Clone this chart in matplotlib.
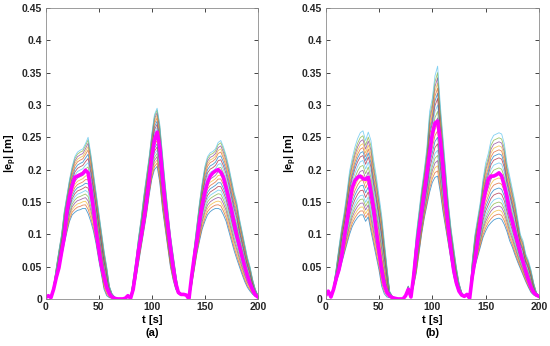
import numpy as np
import matplotlib.pyplot as plt

plt.rcParams['font.family'] = ['Liberation Sans', 'DejaVu Sans']
plt.rcParams['font.weight'] = 'bold'
plt.rcParams['mathtext.fontset'] = 'custom'
plt.rcParams['mathtext.rm'] = 'Liberation Sans:bold'
plt.rcParams['mathtext.it'] = 'Liberation Sans:bold'

# sample times [s]
t = np.arange(0, 200.1, 2.5)

# panel (a): highest run, lowest run and mean (magenta)
upper_a = [0.002, 0.003, 0.003, 0.020, 0.048, 0.075, 0.100, 0.135, 0.160, 0.185,
           0.205, 0.220, 0.227, 0.230, 0.232, 0.240, 0.250, 0.225, 0.195, 0.165,
           0.135, 0.105, 0.075, 0.050, 0.020, 0.008, 0.003, 0.001, 0.000, 0.000,
           0.002, 0.005, 0.002, 0.030, 0.060, 0.095, 0.125, 0.160, 0.190, 0.220,
           0.255, 0.285, 0.295, 0.270, 0.225, 0.180, 0.140, 0.100, 0.070, 0.040,
           0.012, 0.008, 0.007, 0.006, 0.001, 0.040, 0.080, 0.115, 0.150, 0.180,
           0.205, 0.220, 0.226, 0.228, 0.232, 0.242, 0.245, 0.235, 0.222, 0.205,
           0.185, 0.165, 0.150, 0.125, 0.105, 0.085, 0.065, 0.050, 0.030, 0.015,
           0.005]
lower_a = [0.002, 0.003, 0.002, 0.012, 0.028, 0.045, 0.065, 0.085, 0.103, 0.120,
           0.130, 0.134, 0.137, 0.138, 0.140, 0.140, 0.132, 0.120, 0.105, 0.085,
           0.060, 0.038, 0.015, 0.005, 0.002, 0.001, 0.001, 0.000, 0.000, 0.000,
           0.002, 0.005, 0.001, 0.010, 0.030, 0.055, 0.080, 0.105, 0.130, 0.160,
           0.185, 0.200, 0.205, 0.180, 0.140, 0.110, 0.080, 0.050, 0.030, 0.015,
           0.008, 0.007, 0.006, 0.006, 0.000, 0.020, 0.045, 0.070, 0.090, 0.108,
           0.120, 0.130, 0.135, 0.138, 0.140, 0.140, 0.138, 0.130, 0.120, 0.105,
           0.090, 0.075, 0.062, 0.050, 0.038, 0.027, 0.018, 0.012, 0.007, 0.004,
           0.003]
mean_a = [0.002, 0.005, 0.002, 0.015, 0.033, 0.048, 0.072, 0.095, 0.135, 0.158,
          0.175, 0.188, 0.190, 0.192, 0.194, 0.199, 0.195, 0.170, 0.140, 0.105,
          0.078, 0.052, 0.035, 0.018, 0.008, 0.003, 0.001, 0.000, 0.000, 0.000,
          0.001, 0.005, 0.001, 0.015, 0.045, 0.075, 0.097, 0.122, 0.150, 0.185,
          0.220, 0.245, 0.258, 0.235, 0.190, 0.148, 0.115, 0.080, 0.050, 0.025,
          0.010, 0.007, 0.007, 0.006, 0.000, 0.035, 0.065, 0.090, 0.120, 0.145,
          0.165, 0.180, 0.190, 0.195, 0.198, 0.200, 0.196, 0.188, 0.172, 0.155,
          0.138, 0.118, 0.098, 0.082, 0.066, 0.050, 0.036, 0.024, 0.014, 0.006,
          0.003]

# panel (b)
upper_b = [0.005, 0.012, 0.004, 0.020, 0.048, 0.080, 0.110, 0.135, 0.165, 0.198,
           0.218, 0.235, 0.248, 0.257, 0.260, 0.245, 0.258, 0.245, 0.215, 0.190,
           0.160, 0.130, 0.090, 0.050, 0.012, 0.004, 0.002, 0.001, 0.000, 0.000,
           0.005, 0.020, 0.004, 0.050, 0.100, 0.135, 0.170, 0.200, 0.235, 0.290,
           0.310, 0.345, 0.360, 0.300, 0.250, 0.200, 0.150, 0.110, 0.080, 0.050,
           0.025, 0.010, 0.005, 0.008, 0.002, 0.060, 0.100, 0.125, 0.150, 0.185,
           0.210, 0.225, 0.245, 0.253, 0.255, 0.257, 0.255, 0.240, 0.210, 0.190,
           0.170, 0.150, 0.125, 0.100, 0.090, 0.070, 0.060, 0.045, 0.025, 0.010,
           0.004]
lower_b = [0.005, 0.010, 0.003, 0.012, 0.025, 0.040, 0.055, 0.070, 0.085, 0.100,
           0.112, 0.120, 0.126, 0.130, 0.130, 0.120, 0.127, 0.105, 0.085, 0.065,
           0.045, 0.020, 0.008, 0.003, 0.002, 0.001, 0.000, 0.000, 0.000, 0.000,
           0.005, 0.015, 0.003, 0.020, 0.040, 0.070, 0.100, 0.125, 0.145, 0.165,
           0.180, 0.188, 0.190, 0.165, 0.135, 0.110, 0.085, 0.060, 0.035, 0.020,
           0.010, 0.005, 0.003, 0.006, 0.001, 0.025, 0.050, 0.065, 0.080, 0.095,
           0.105, 0.113, 0.118, 0.122, 0.124, 0.125, 0.123, 0.115, 0.104, 0.090,
           0.080, 0.068, 0.057, 0.047, 0.037, 0.027, 0.018, 0.010, 0.006, 0.004,
           0.003]
mean_b = [0.005, 0.012, 0.003, 0.015, 0.032, 0.045, 0.065, 0.095, 0.120, 0.148,
          0.172, 0.183, 0.188, 0.190, 0.186, 0.185, 0.188, 0.165, 0.140, 0.105,
          0.075, 0.045, 0.022, 0.010, 0.005, 0.002, 0.001, 0.000, 0.000, 0.000,
          0.005, 0.015, 0.003, 0.035, 0.075, 0.105, 0.135, 0.165, 0.195, 0.225,
          0.255, 0.272, 0.275, 0.245, 0.205, 0.150, 0.110, 0.075, 0.045, 0.025,
          0.012, 0.006, 0.004, 0.007, 0.001, 0.035, 0.060, 0.090, 0.120, 0.148,
          0.168, 0.185, 0.190, 0.190, 0.192, 0.195, 0.190, 0.175, 0.158, 0.135,
          0.120, 0.103, 0.088, 0.072, 0.057, 0.043, 0.030, 0.018, 0.010, 0.006,
          0.004]

# peak of the middle hump for each of the 20 runs
peaks_a = [0.205, 0.210, 0.215, 0.220, 0.225, 0.230, 0.235, 0.240, 0.245, 0.250,
           0.255, 0.260, 0.265, 0.270, 0.275, 0.280, 0.284, 0.288, 0.292, 0.295]
peaks_b = [0.190, 0.198, 0.206, 0.214, 0.222, 0.230, 0.240, 0.250, 0.260, 0.270,
           0.280, 0.290, 0.300, 0.310, 0.318, 0.326, 0.334, 0.342, 0.350, 0.360]

matlab_colors = ['#0072BD', '#D95319', '#EDB120', '#7E2F8E',
                 '#77AC30', '#4DBEEE', '#A2142F']

fig = plt.figure(figsize=(5.5, 3.46), dpi=100)
ax_a = fig.add_axes([0.083, 0.136, 0.386, 0.841])
ax_b = fig.add_axes([0.592, 0.136, 0.388, 0.841])

panels = [(ax_a, upper_a, lower_a, mean_a, peaks_a, '(a)'),
          (ax_b, upper_b, lower_b, mean_b, peaks_b, '(b)')]

for ax, up, lo, mn, peaks, tag in panels:
    up = np.array(up)
    lo = np.array(lo)
    for i, p in enumerate(peaks):
        w = (p - peaks[0]) / (peaks[-1] - peaks[0])
        ax.plot(t, lo + w * (up - lo), color=matlab_colors[i % 7], lw=0.6, alpha=0.7)
    ax.plot(t, mn, color='#FF00FF', lw=2.6)

    ax.set_xlim(0, 200)
    ax.set_ylim(0, 0.45)
    ax.set_xticks([0, 50, 100, 150, 200])
    ax.set_yticks(np.arange(0, 0.451, 0.05))
    ax.set_yticklabels(['0', '0.05', '0.1', '0.15', '0.2', '0.25', '0.3', '0.35', '0.4', '0.45'])
    ax.tick_params(direction='in', length=3, width=0.6, top=True, right=True,
                   labelsize=7.5, colors='0.15', pad=2.5)
    for s in ax.spines.values():
        s.set_color('0.55')
        s.set_linewidth(0.6)
    ax.set_xlabel('t [s]\n' + tag, fontsize=8, fontweight='bold', labelpad=2,
                  linespacing=1.35)
    ax.set_ylabel(r'|e$_{p}$| [m]', fontsize=8, fontweight='bold', labelpad=2)

fig.savefig('out.png', dpi=100)
